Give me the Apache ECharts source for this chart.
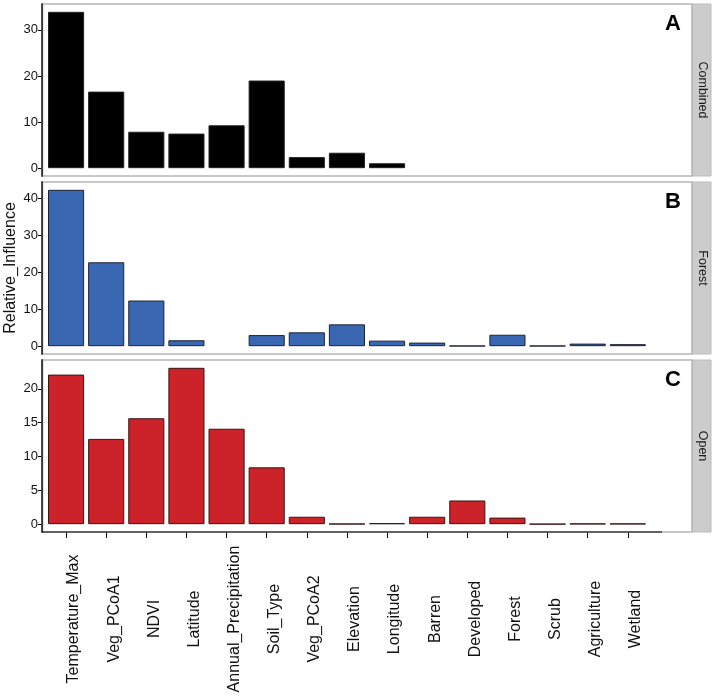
<!DOCTYPE html>
<html>
<head>
<meta charset="utf-8">
<script src="https://cdn.jsdelivr.net/npm/echarts@6/dist/echarts.min.js"></script>
<style>
html,body{margin:0;padding:0;background:#fff;}
#chart{width:715px;height:699px;}
</style>
</head>
<body>
<div id="chart"></div>
<script>
var categories = ['Temperature_Max','Veg_PCoA1','NDVI','Latitude','Annual_Precipitation','Soil_Type','Veg_PCoA2','Elevation','Longitude','Barren','Developed','Forest','Scrub','Agriculture','Wetland',''];
var combinedValues = [33.9,16.6,7.9,7.5,9.3,19.0,2.4,3.35,1.07,null,null,null,null,null,null,null];
var forestValues = [42.3,22.7,12.35,1.6,null,3.0,3.75,5.9,1.5,0.97,0.1,3.1,0.1,0.7,0.55,null];
var openValues = [22.1,12.6,15.65,23.1,14.1,8.4,1.1,0.05,0.15,1.1,3.5,0.97,0.02,0.08,0.08,null];
var combinedTicks = [0,10,20,30];
var forestTicks = [0,10,20,30,40];
var openTicks = [0,5,10,15,20];
var panelNames = ['Combined','Forest','Open'];
var panelLetters = ['A','B','C'];
var yTitle = 'Relative_Influence';

var FONT = '"Liberation Sans", Arial, Helvetica, sans-serif';
var panels = [
  {vals: combinedValues, ticks: combinedTicks, fill: '#000000', border: '#222222'},
  {vals: forestValues, ticks: forestTicks, fill: '#3A67B1', border: '#1C2433'},
  {vals: openValues, ticks: openTicks, fill: '#CC2229', border: '#3A1515'}
];
// panel frame: x 42..692; category extent inset by 0.1 band so centres sit 0.6 band from the edge
var PL = 42, PR = 692, INSET = 4, H = 172, tops = [4, 182, 360];

var chart = echarts.init(document.getElementById('chart'), null, {renderer: 'canvas'});
var grids = [], xAxes = [], yAxes = [], series = [], graphics = [];

panels.forEach(function (p, i) {
  var mx = Math.max.apply(null, p.vals.filter(function (v) { return v != null; }));
  grids.push({left: PL + INSET, right: 715 - PR + INSET, top: tops[i], height: H, show: false,
    containLabel: false, outerBoundsMode: 'none'});
  var last = i === 2;
  xAxes.push({type: 'category', gridIndex: i, data: categories,
    axisLine: {show: false, onZero: false},
    axisTick: {show: last, alignWithLabel: true, length: 6, lineStyle: {color: '#000', width: 1},
      interval: function (idx) { return idx < categories.length - 1; }},
    axisLabel: {show: last, rotate: 90, interval: 0, margin: 87, align: 'center', verticalAlign: 'top',
      fontSize: 16, fontFamily: FONT, color: '#111'},
    splitLine: {show: false}});
  yAxes.push({type: 'value', gridIndex: i, min: -0.05 * mx, max: 1.05 * mx, offset: INSET,
    axisLine: {show: true, onZero: false, lineStyle: {color: '#000', width: 1.2}},
    axisTick: {show: true, length: 4, customValues: p.ticks, lineStyle: {color: '#000'}},
    axisLabel: {customValues: p.ticks, fontSize: 13, fontFamily: FONT, color: '#111', margin: 4},
    splitLine: {show: false}});
  series.push({type: 'bar', xAxisIndex: i, yAxisIndex: i, data: p.vals,
    barCategoryGap: '10%', silent: true,
    itemStyle: {color: p.fill, borderColor: p.border, borderWidth: 1}});
  graphics.push({type: 'rect', shape: {x: PL, y: tops[i], width: PR - PL, height: H},
    style: {fill: 'none', stroke: '#B5B5B5', lineWidth: 1.5}, z: 50});
  graphics.push({type: 'line', shape: {x1: PL, y1: tops[i] - 0.75, x2: PL, y2: tops[i] + H + 0.75},
    style: {stroke: '#000', lineWidth: 1.2}, z: 101});
  graphics.push({type: 'rect', shape: {x: PR + 0.5, y: tops[i], width: 18.5, height: H},
    style: {fill: '#CCCCCC', stroke: '#BDBDBD', lineWidth: 1}});
  graphics.push({type: 'text', x: PR + 10, y: tops[i] + H / 2, rotation: -Math.PI / 2,
    style: {text: panelNames[i], fontSize: 12.5, fontFamily: FONT, fill: '#1A1A1A',
      align: 'center', verticalAlign: 'middle'}});
  graphics.push({type: 'text', x: 673, y: tops[i] + 20,
    style: {text: panelLetters[i], fontSize: 22, fontWeight: 'bold', fontFamily: FONT, fill: '#000',
      align: 'center', verticalAlign: 'middle'}});
});
graphics.push({type: 'line', shape: {x1: PL, y1: tops[2] + H, x2: 662, y2: tops[2] + H},
  style: {stroke: '#000', lineWidth: 1.2}, z: 100});
graphics.push({type: 'text', x: 11, y: (tops[0] + tops[2] + H) / 2, rotation: Math.PI / 2,
  style: {text: yTitle, fontSize: 16, fontFamily: FONT, fill: '#111', align: 'center', verticalAlign: 'middle'}});

chart.setOption({
  animation: false,
  backgroundColor: '#fff',
  grid: grids,
  xAxis: xAxes,
  yAxis: yAxes,
  series: series,
  graphic: graphics
});
</script>
</body>
</html>
